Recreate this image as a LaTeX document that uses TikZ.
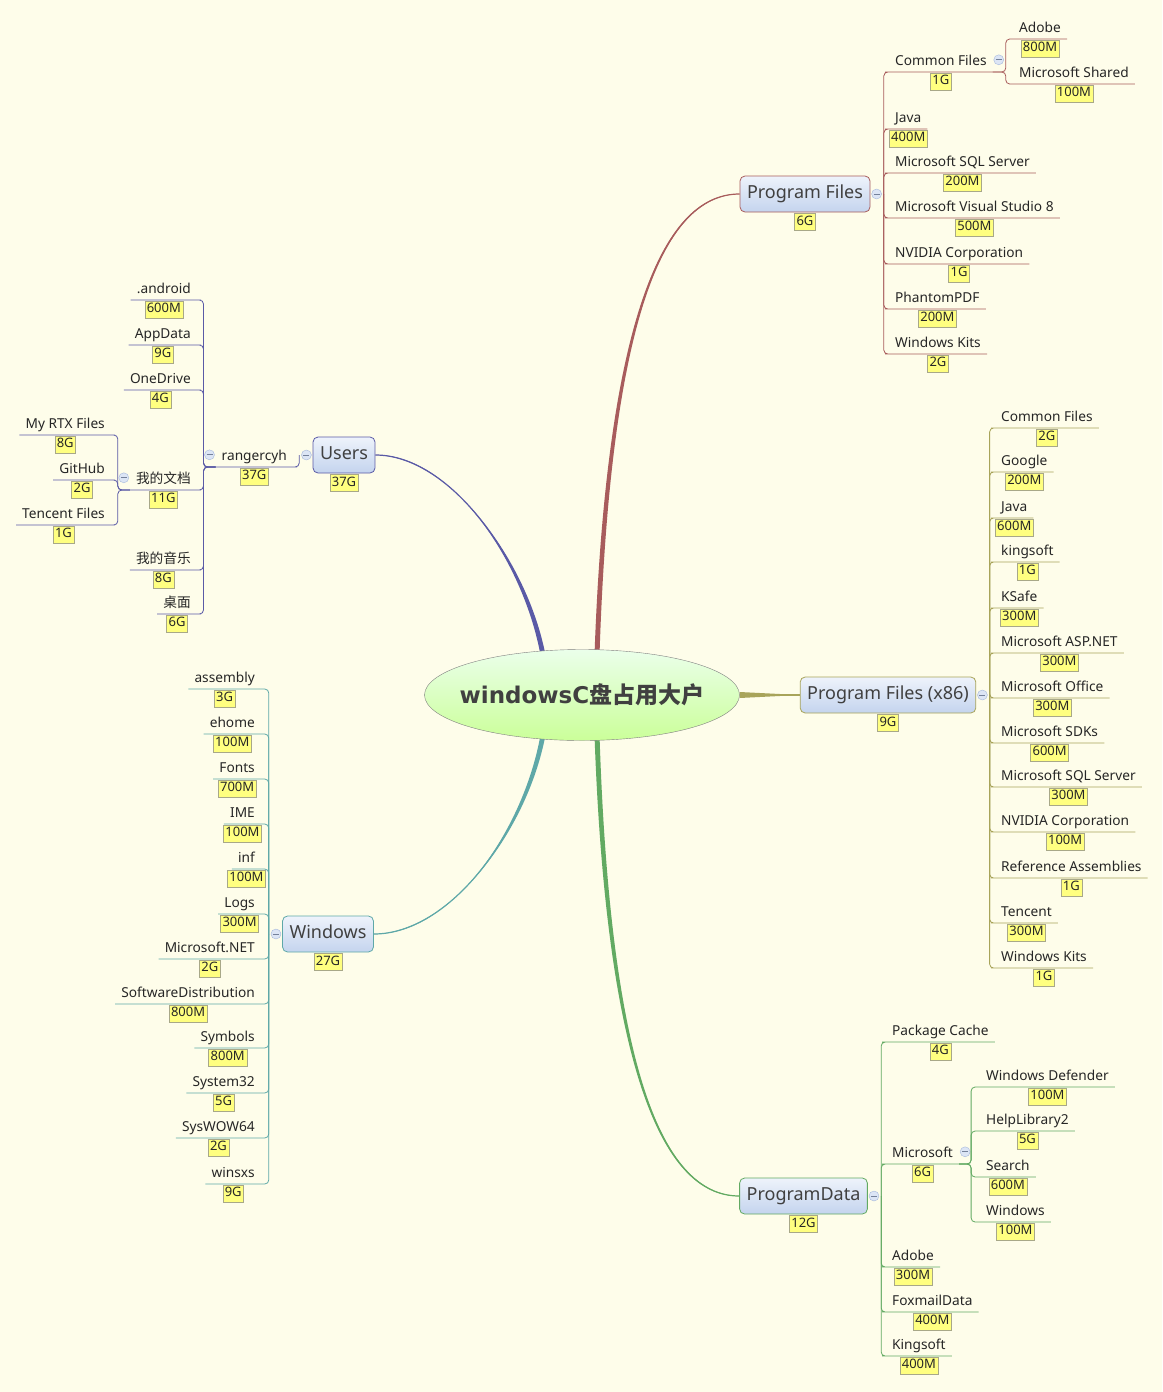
\documentclass[tikz,border=0pt]{standalone}
\usepackage{fontspec}
\setmainfont{Noto Sans}
\newfontfamily\cjk{Noto Sans CJK SC}
\newfontfamily\titlefont{DejaVu Sans}
\usetikzlibrary{positioning,shapes.geometric,backgrounds,calc}

\definecolor{paper}{HTML}{FEFDEA}
\definecolor{pfcol}{HTML}{A85C5C}
\definecolor{uscol}{HTML}{5A5AA6}
\definecolor{wncol}{HTML}{5EA8A8}
\definecolor{xcol}{HTML}{A8A45A}
\definecolor{pdcol}{HTML}{62AA62}
\definecolor{tagfill}{HTML}{FFFF80}
\definecolor{tagline}{HTML}{A8A888}
\definecolor{foldfill}{HTML}{DCE5F5}
\definecolor{foldline}{HTML}{A6B8DC}
\definecolor{topictop}{HTML}{EEF3FB}
\definecolor{topicbot}{HTML}{C4D4EE}

\tikzset{
  leaf/.style={inner xsep=6pt, inner ysep=2pt, text height=10pt, text depth=4pt,
    font=\fontsize{13.7}{16}\selectfont, text=black!85},
  leafr/.style={leaf, anchor=south west},
  leafl/.style={leaf, anchor=south east},
  tag/.style={draw=tagline, fill=tagfill, inner xsep=2pt, inner ysep=2.5pt,
    text height=9.5pt, text depth=3pt, font=\fontsize{13}{15}\selectfont,
    text=black!85, below=0.5pt of #1},
  fold/.style={circle, draw=foldline, fill=foldfill, minimum size=10pt, inner sep=0pt,
    path picture={\draw[foldline!70!black, line width=0.7pt]
      ([xshift=-3pt]path picture bounding box.center) --
      ([xshift=3pt]path picture bounding box.center);}},
  topic/.style={draw=#1, rounded corners=5pt, top color=topictop, bottom color=topicbot,
    line width=0.8pt, inner xsep=7pt, minimum height=36pt, text height=13pt,
    text depth=4pt, font=\fontsize{18}{22}\selectfont, text=black!75},
  branch/.style={draw=#1, line width=0.8pt, rounded corners=4pt},
}

\begin{document}
\begin{tikzpicture}[x=1pt,y=-1pt]
\useasboundingbox (0,0) rectangle (1162,1392);

% centre and main topics
\node[ellipse, draw=black!50, top color=green!8, bottom color=green!35!lime!40,
  minimum width=315pt, minimum height=91pt, inner sep=0pt, text=black!75,
  font=\titlefont\bfseries\fontsize{23}{28}\selectfont] (root) at (582,695)
  {\makebox[150pt]{windowsC{\cjk 盘占用大户}}};
\node[topic=pfcol] (pf) at (805,194) {Program Files};
\node[tag=pf] (tpf) {6G};
\node[fold, right=1pt of pf] (fpf) {};
\node[topic=uscol] (us) at (344,455) {Users};
\node[tag=us] (tus) {37G};
\node[fold, left=1pt of us] (fus) {};
\node[topic=wncol] (wn) at (328,934) {Windows};
\node[tag=wn] (twn) {27G};
\node[fold, left=1pt of wn] (fwn) {};
\node[topic=xcol] (x86) at (888,695) {Program Files (x86)};
\node[tag=x86] (tx86) {9G};
\node[fold, right=1pt of x86] (fx86) {};
\node[topic=pdcol] (pd) at (803.5,1196) {ProgramData};
\node[tag=pd] (tpd) {12G};
\node[fold, right=1pt of pd] (fpd) {};

% tapered main branches
\begin{pgfonlayer}{background}
\fill[paper] (0,0) rectangle (1162,1392);
\fill[pfcol] ($(root.center)+(12.5,-40)$) .. controls (606,330) and (660,192.5) .. (pf.west)
  .. controls (660,195.5) and (610,330) .. ($(root.center)+(17.5,-40)$) -- cycle;
\draw[pfcol, line width=1.2pt] ($(root.center)+(15,-40)$) .. controls (608,330) and (660,194) .. (pf.west);
\fill[uscol] ($(root.center)+(-41.5,-40)$) .. controls (523,560) and (450,453.5) .. (us.east)
  .. controls (450,456.5) and (527,560) .. ($(root.center)+(-36.5,-40)$) -- cycle;
\draw[uscol, line width=1.2pt] ($(root.center)+(-39,-40)$) .. controls (525,560) and (450,455) .. (us.east);
\fill[wncol] ($(root.center)+(-41.5,40)$) .. controls (523,832) and (450,935.5) .. (wn.east)
  .. controls (450,932.5) and (527,832) .. ($(root.center)+(-36.5,40)$) -- cycle;
\draw[wncol, line width=1.2pt] ($(root.center)+(-39,40)$) .. controls (525,832) and (450,934) .. (wn.east);
\fill[pdcol] ($(root.center)+(12.5,40)$) .. controls (606,1060) and (660,1197.5) .. (pd.west)
  .. controls (660,1194.5) and (610,1060) .. ($(root.center)+(17.5,40)$) -- cycle;
\draw[pdcol, line width=1.2pt] ($(root.center)+(15,40)$) .. controls (608,1060) and (660,1196) .. (pd.west);
\fill[xcol] ([yshift=3pt]root.east) -- (x86.west) -- ([yshift=-3pt]root.east) -- cycle;
\draw[xcol, line width=1.2pt] (root.east) -- (x86.west);
\end{pgfonlayer}

% Program Files
\foreach \nm/\yy/\txt/\sz in {pf1/72/Common Files/1G, pf2/129/Java/400M,
  pf3/173/Microsoft SQL Server/200M, pf4/218/Microsoft Visual Studio 8/500M,
  pf5/264/NVIDIA Corporation/1G, pf6/309/PhantomPDF/200M, pf7/354/Windows Kits/2G}{
  \node[leafr] (\nm) at (889,\yy) {\txt};
  \node[tag=\nm] (t\nm) {\sz};
  \draw[branch=pfcol] ([xshift=2pt]fpf.east) |- (\nm.south west) -- (\nm.south east);
}
\node[fold] (fpf1) at ([xshift=6pt,yshift=3pt]pf1.east) {};
\foreach \nm/\yy/\txt/\sz in {pfa/39/Adobe/800M, pfb/84/Microsoft Shared/100M}{
  \node[leafr] (\nm) at (1013,\yy) {\txt};
  \node[tag=\nm] (t\nm) {\sz};
  \draw[branch=pfcol] (pf1.south east) -- ++(13,0) |- (\nm.south west) -- (\nm.south east);
}

% Users
\node[leafl] (rc) at (293,467) {rangercyh};
\node[tag=rc] (trc) {37G};
\draw[branch=uscol] ([xshift=-2pt]fus.west) |- (rc.south east) -- (rc.south west);
\node[fold] (frc) at ([xshift=-6pt,yshift=3pt]rc.west) {};
\foreach \nm/\yy/\txt/\sz in {ua/300/.android/600M, ub/345/AppData/9G, uc/390/OneDrive/4G,
  ud/490/{\cjk 我的文档}/11G, ue/570/{\cjk 我的音乐}/8G, uf/614/{\cjk 桌面}/6G}{
  \node[leafl] (\nm) at (197,\yy) {\txt};
  \node[tag=\nm] (t\nm) {\sz};
  \draw[branch=uscol] (rc.south west) -- ++(-12,0) |- (\nm.south east) -- (\nm.south west);
}
\node[fold] (fud) at ([xshift=-6pt,yshift=3pt]ud.west) {};
\foreach \nm/\yy/\txt/\sz in {uda/435/My RTX Files/8G, udb/480/GitHub/2G, udc/525/Tencent Files/1G}{
  \node[leafl] (\nm) at (111,\yy) {\txt};
  \node[tag=\nm] (t\nm) {\sz};
  \draw[branch=uscol] (ud.south west) -- ++(-12,0) |- (\nm.south east) -- (\nm.south west);
}

% Windows
\foreach \nm/\yy/\txt/\sz in {wa/689/assembly/3G, wb/734/ehome/100M, wc/779/Fonts/700M,
  wd/824/IME/100M, we/869/inf/100M, wf/914/Logs/300M, wg/959/Microsoft.NET/2G,
  wh/1004/SoftwareDistribution/800M, wi/1048/Symbols/800M, wj/1093/System32/5G,
  wk/1138/SysWOW64/2G, wl/1184/winsxs/9G}{
  \node[leafl] (\nm) at (261,\yy) {\txt};
  \node[tag=\nm] (t\nm) {\sz};
  \draw[branch=wncol] ([xshift=-2pt]fwn.west) |- (\nm.south east) -- (\nm.south west);
}

% Program Files (x86)
\foreach \nm/\yy/\txt/\sz in {xa/428/Common Files/2G, xb/472/Google/200M, xc/518/Java/600M,
  xd/562/kingsoft/1G, xe/608/KSafe/300M, xf/653/Microsoft ASP.NET/300M,
  xg/698/Microsoft Office/300M, xh/743/Microsoft SDKs/600M, xi/787/Microsoft SQL Server/300M,
  xj/832/NVIDIA Corporation/100M, xk/878/Reference Assemblies/1G, xl/923/Tencent/300M,
  xm/968/Windows Kits/1G}{
  \node[leafr] (\nm) at (995,\yy) {\txt};
  \node[tag=\nm] (t\nm) {\sz};
  \draw[branch=xcol] ([xshift=2pt]fx86.east) |- (\nm.south west) -- (\nm.south east);
}

% ProgramData
\foreach \nm/\yy/\txt/\sz in {pd1/1042/Package Cache/4G, pd2/1164/Microsoft/6G,
  pd3/1267/Adobe/300M, pd4/1312/FoxmailData/400M, pd5/1356/Kingsoft/400M}{
  \node[leafr] (\nm) at (886,\yy) {\txt};
  \node[tag=\nm] (t\nm) {\sz};
  \draw[branch=pdcol] ([xshift=2pt]fpd.east) |- (\nm.south west) -- (\nm.south east);
}
\node[fold] (fpd2) at ([xshift=6pt,yshift=3pt]pd2.east) {};
\foreach \nm/\yy/\txt/\sz in {pma/1087/Windows Defender/100M, pmb/1131/HelpLibrary2/5G,
  pmc/1177/Search/600M, pmd/1222/Windows/100M}{
  \node[leafr] (\nm) at (980,\yy) {\txt};
  \node[tag=\nm] (t\nm) {\sz};
  \draw[branch=pdcol] (pd2.south east) -- ++(12,0) |- (\nm.south west) -- (\nm.south east);
}
\end{tikzpicture}
\end{document}
